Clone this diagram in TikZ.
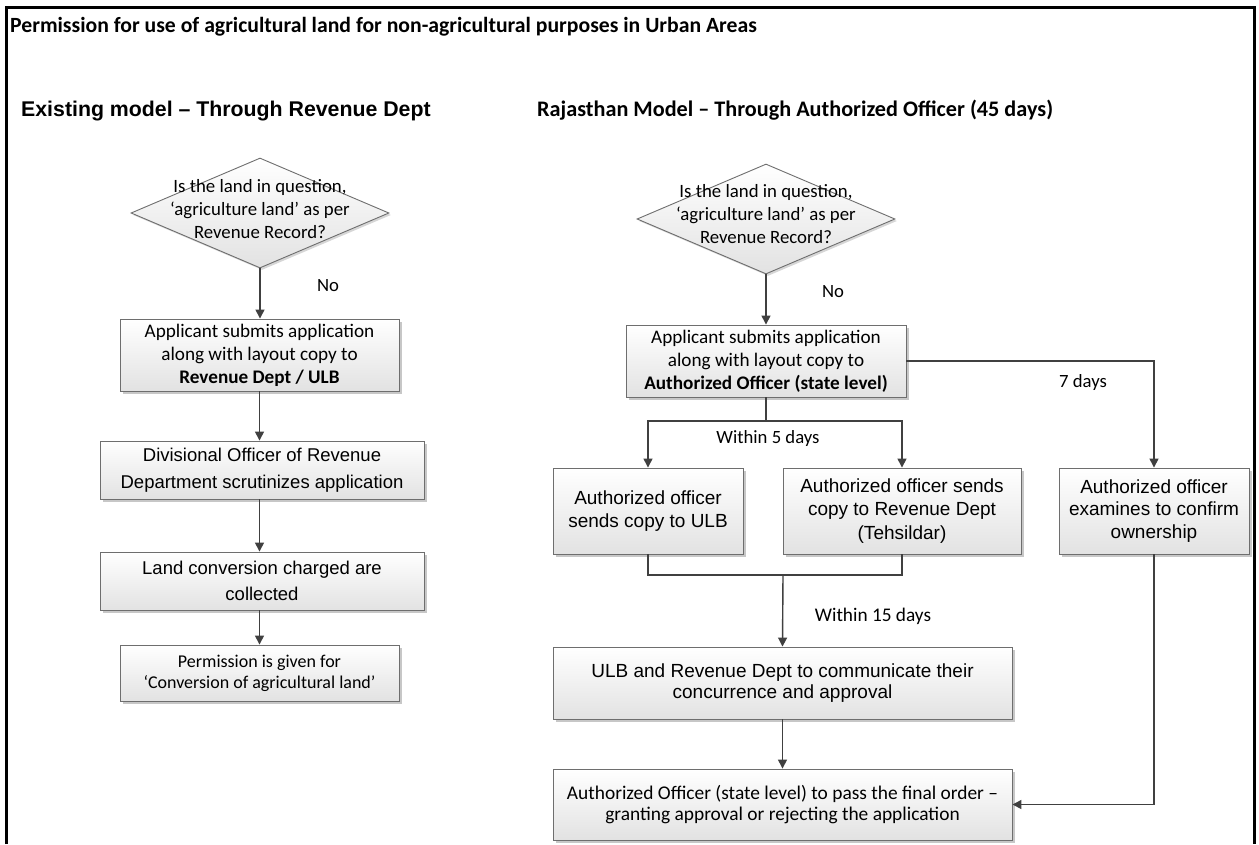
\documentclass[tikz,border=0pt]{standalone}
\usepackage{fontspec}
\setmainfont{Carlito}
\newfontfamily\arialfont{Liberation Sans}
\newfontfamily\calfont{Carlito}
\usetikzlibrary{shapes.geometric,arrows.meta,shadows}

\definecolor{edgegray}{HTML}{6E6E6E}
\definecolor{linegray}{HTML}{404040}
\definecolor{fillbot}{HTML}{E2E2E2}

\tikzset{
  box/.style={draw=edgegray, line width=0.9pt, top color=white, bottom color=fillbot,
    inner sep=0pt, align=center,
    drop shadow={shadow xshift=2.5pt, shadow yshift=-2.5pt, fill=black!40, opacity=0.55}},
  decision/.style={draw=edgegray, line width=0.9pt, diamond, top color=white, bottom color=fillbot,
    inner sep=0pt, drop shadow={shadow xshift=2pt, shadow yshift=-2pt, fill=black!40, opacity=0.4}},
  cal/.style={font=\calfont\fontsize{19.2}{23}\selectfont},
  ari/.style={font=\arialfont\fontsize{19}{22.5}\selectfont},
  arr/.style={draw=linegray, line width=1.4pt, -{Triangle[length=9pt,width=9pt]}},
  conn/.style={draw=linegray, line width=1.4pt},
  lbl/.style={font=\calfont\fontsize{18.7}{22}\selectfont, inner sep=0pt},
  qtext/.style={align=center, inner sep=0pt, font=\calfont\fontsize{18.8}{23}\selectfont},
  heading/.style={anchor=base west, inner sep=0pt},
}

\begin{document}
\begin{tikzpicture}[x=1pt,y=-1pt]
\useasboundingbox (0,0) rectangle (1259,844);
\fill[white] (0,0) rectangle (1259,844);

% outer frame, open at the bottom
\draw[line width=3pt] (6,844) -- (6,7) -- (1254,7) -- (1254,844);

% headings
\node[heading, font=\calfont\bfseries\fontsize{21.7}{25}\selectfont] (title) at (10,32)
  {Permission for use of agricultural land for non-agricultural purposes in Urban Areas};
\node[heading, font=\arialfont\bfseries\fontsize{21.3}{25}\selectfont] (hleft) at (21,116)
  {Existing model – Through Revenue Dept};
\node[heading, font=\calfont\bfseries\fontsize{22.2}{25}\selectfont] (hright) at (537,116)
  {Rajasthan Model – Through Authorized Officer (45 days)};

% ---------- existing model ----------
\node[decision, minimum width=258pt, minimum height=110pt] (d1) at (260,213) {};
\node[qtext] (d1t) at (260,209)
  {Is the land in question,\\‘agriculture land’ as per\\Revenue Record?};

\node[box, cal, minimum width=279pt, minimum height=72pt] (b1) at (259.5,355)
  {Applicant submits application\\along with layout copy to\\\textbf{Revenue Dept / ULB}};
\node[box, font=\arialfont\fontsize{18.5}{27}\selectfont, minimum width=324pt, minimum height=58pt] (b2) at (262,470)
  {Divisional Officer of Revenue\\Department scrutinizes application};
\node[box, font=\arialfont\fontsize{18.5}{26}\selectfont, minimum width=324pt, minimum height=58pt] (b3) at (262,581)
  {Land conversion charged are\\collected};
\node[box, font=\calfont\fontsize{18}{21}\selectfont, minimum width=279pt, minimum height=56pt] (b4) at (259.5,673)
  {Permission is given for\\‘Conversion of agricultural land’};

\draw[arr] (d1.south) -- (d1.south |- b1.north);
\node[lbl] (no1) at (328,286) {No};
\draw[arr] (b1.south) -- (b1.south |- b2.north);
\draw[arr] (b1.south |- b2.south) -- (b1.south |- b3.north);
\draw[arr] (b1.south |- b3.south) -- (b4.north);

% ---------- Rajasthan model ----------
\node[decision, minimum width=258pt, minimum height=110pt] (d2) at (766,219) {};
\node[qtext] (d2t) at (766,214)
  {Is the land in question,\\‘agriculture land’ as per\\Revenue Record?};

\node[box, cal, minimum width=280pt, minimum height=72pt] (r1) at (766,361)
  {Applicant submits application\\along with layout copy to\\\textbf{Authorized Officer (state level)}};
\node[box, ari, minimum width=190pt, minimum height=86pt] (r2a) at (648,511)
  {Authorized officer\\sends copy to ULB};
\node[box, font=\arialfont\fontsize{19}{23.5}\selectfont, minimum width=238pt, minimum height=86pt] (r2b) at (902,511)
  {Authorized officer sends\\copy to Revenue Dept\\(Tehsildar)};
\node[box, ari, minimum width=190pt, minimum height=86pt] (r3) at (1154,511)
  {Authorized officer\\examines to confirm\\ownership};
\node[box, font=\arialfont\fontsize{19}{21.5}\selectfont, minimum width=459pt, minimum height=72pt] (r4) at (782.5,683)
  {ULB and Revenue Dept to communicate their\\concurrence and approval};
\node[box, font=\calfont\fontsize{19.4}{21.5}\selectfont, minimum width=459pt, minimum height=71pt] (r5) at (782.5,804.5)
  {Authorized Officer (state level) to pass the final order –\\granting approval or rejecting the application};

\draw[arr] (d2.south) -- (r1.north);
\node[lbl] (no2) at (833,292) {No};

% split below the application box
\coordinate (split) at (766,421);
\draw[conn] (r1.south) -- (split);
\draw[arr] (split) -| (r2a.north);
\draw[arr] (split) -| (r2b.north);
\node[lbl] (w5) at (768,439) {Within 5 days};

% ownership check branch
\draw[arr] (r1.east) -| (r3.north);
\node[lbl] (d7) at (1083,383) {7 days};

% join of the two copies
\coordinate (join) at (783,575);
\draw[conn] (r2a.south) |- (join) -| (r2b.south);
\draw[arr] (join) -- (r4.north);
\node[lbl, font=\calfont\fontsize{19.3}{22}\selectfont] (w15) at (873,616) {Within 15 days};

\draw[arr] (r4.south) -- (r5.north);
\draw[arr] (r3.south) |- (r5.east);
\end{tikzpicture}
\end{document}
